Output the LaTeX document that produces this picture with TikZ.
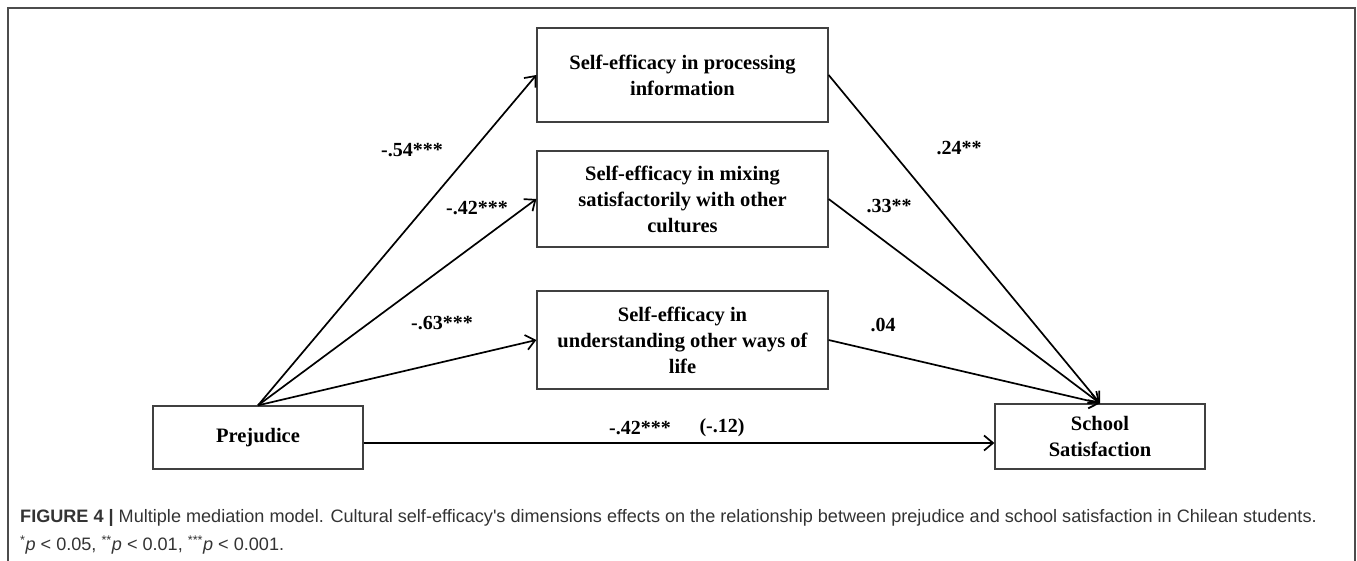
\documentclass[tikz,border=0pt]{standalone}
\usepackage{fontspec}
\setmainfont{Liberation Serif}
\newfontfamily\capfont[FakeStretch=1.005]{Liberation Sans}
\usetikzlibrary{arrows.meta}

\begin{document}
\begin{tikzpicture}[x=1pt,y=-1pt]
\tikzstyle{box} = [draw=black!75, line width=1.3pt, minimum width=291pt, inner sep=0pt, align=center, font=\bfseries\fontsize{20.5}{26}\selectfont]
\tikzstyle{path} = [draw, line width=1.7pt, -{Straight Barb[length=9pt,width=15pt]}]
\tikzstyle{coef} = [font=\bfseries\fontsize{20}{22}\selectfont]
\tikzstyle{caption} = [anchor=west, inner sep=0pt, text=black!80, font=\capfont\fontsize{18}{20}\selectfont]
\useasboundingbox (0,0) rectangle (1357,560);
\draw[black!70, line width=1.5pt] (8,565) -- (8,8) -- (1355,8) -- (1355,565);

\node[box, minimum height=94pt] (proc) at (682.5,75) {Self-efficacy in processing\\information};
\node[box, minimum height=96pt] (mix) at (682.5,199) {Self-efficacy in mixing\\satisfactorily with other\\cultures};
\node[box, minimum height=98pt] (life) at (682.5,340) {Self-efficacy in\\understanding other ways of\\life};
\node[box, minimum width=210pt, minimum height=63pt] (prej) at (258,437.5) {Prejudice};
\node[box, minimum width=210pt, minimum height=65pt] (school) at (1100,436.5) {School\\Satisfaction};

\path[path] (prej.north) -- (proc.west);
\path[path] (prej.north) -- (mix.west);
\path[path] (prej.north) -- (life.west);
\path[path] (proc.east) -- (school.north);
\path[path] (mix.east) -- (school.north);
\path[path] (life.east) -- (school.north);
\path[path] ([yshift=-5.5pt]prej.east) -- ([yshift=-6.5pt]school.west);

\node[coef] (a1) at (412,150) {-.54***};
\node[coef] (a2) at (477,208) {-.42***};
\node[coef] (a3) at (442,323) {-.63***};
\node[coef] (b1) at (959,148) {.24**};
\node[coef] (b2) at (889,206) {.33**};
\node[coef] (b3) at (883,325) {.04};
\node[coef] (c) at (640,428) {-.42***};
\node[coef] (cp) at (722,428) {(-.12)};

\node[caption] (cap1) at (20,518) {\textbf{FIGURE 4 |} Multiple mediation model. Cultural self-efficacy's dimensions effects on the relationship between prejudice and school satisfaction in Chilean students.};
\node[caption] (cap2) at (20,545) {\textsuperscript{*}\textit{p} < 0.05, \textsuperscript{**}\textit{p} < 0.01, \textsuperscript{***}\textit{p} < 0.001.};
\end{tikzpicture}
\end{document}
